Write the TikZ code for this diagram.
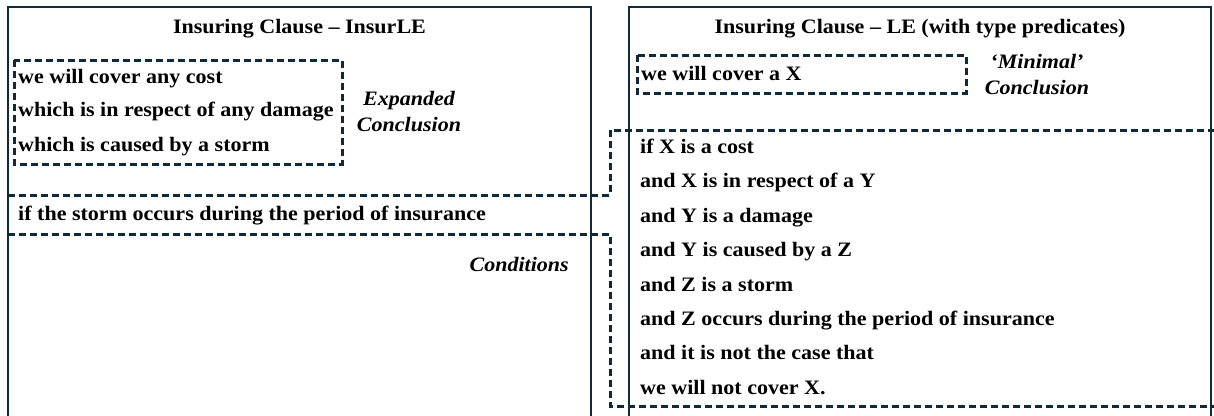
\documentclass[tikz,border=0pt]{standalone}
\usepackage{fontspec}
\setmainfont{Liberation Serif}[FakeStretch=1.075]
\definecolor{navy}{HTML}{0F2A3A}
\begin{document}
\begin{tikzpicture}[x=1pt,y=-1pt,
  panel/.style={draw=navy, line width=1.8pt},
  dashline/.style={draw=navy, line width=3pt, dash pattern=on 7pt off 4pt},
  txt/.style={anchor=base west, inner sep=0pt, font=\fontsize{20.5}{25}\selectfont\bfseries},
  ttl/.style={anchor=base, inner sep=0pt, font=\fontsize{20.5}{25}\selectfont\bfseries},
  lbl/.style={anchor=base, inner sep=0pt, font=\fontsize{20.5}{25}\selectfont\bfseries\itshape}]
\useasboundingbox (0,0) rectangle (1214,415);
% panels
\coordinate (lp1) at (8,416); \coordinate (lp2) at (8,7);
\coordinate (lp3) at (591,7); \coordinate (lp4) at (591,416);
\coordinate (rp1) at (629,416); \coordinate (rp2) at (629,7);
\coordinate (rp3) at (1211,7); \coordinate (rp4) at (1211,416);
\draw[panel] (lp1) -- (lp2) -- (lp3) -- (lp4);
\draw[panel] (rp1) -- (rp2) -- (rp3) -- (rp4);
% titles
\node[ttl] (t1) at (299.5,33) {Insuring Clause – InsurLE};
\node[ttl] (t2) at (920,33) {Insuring Clause – LE (with type predicates)};
% left dashed box
\coordinate (lb1) at (14,60); \coordinate (lb2) at (342,164);
\draw[dashline] (lb1) rectangle (lb2);
\node[txt] (l1) at (18,83) {we will cover any cost};
\node[txt] (l2) at (18,116.5) {which is in respect of any damage};
\node[txt] (l3) at (18,151.5) {which is caused by a storm};
\node[lbl] (e1) at (409,105.5) {Expanded};
\node[lbl] (e2) at (409,131.5) {Conclusion};
% condition strips
\coordinate (u0) at (8,195); \coordinate (u1) at (610,195);
\coordinate (u2) at (610,130); \coordinate (u3) at (1214,130);
\draw[dashline] (u0) -- (u1) -- (u2) -- (u3);
\node[txt] (c1) at (18,220.5) {if the storm occurs during the period of insurance};
\coordinate (d0) at (8,234); \coordinate (d1) at (610,234);
\coordinate (d2) at (610,406); \coordinate (d3) at (1214,406);
\draw[dashline] (d0) -- (d1) -- (d2) -- (d3);
\node[lbl, anchor=base east] (cond) at (569,271) {Conditions};
% right minimal box
\coordinate (mb1) at (637,55); \coordinate (mb2) at (966,93);
\draw[dashline] (mb1) rectangle (mb2);
\node[txt] (m1) at (641,80.5) {we will cover a X};
\node[lbl] (n1) at (1037,68) {‘Minimal’};
\node[lbl] (n2) at (1037,94) {Conclusion};
% right lines
\node[txt] (r1) at (640,153.5) {if X is a cost};
\node[txt] (r2) at (640,187.9) {and X is in respect of a Y};
\node[txt] (r3) at (640,222.3) {and Y is a damage};
\node[txt] (r4) at (640,256.7) {and Y is caused by a Z};
\node[txt] (r5) at (640,291.1) {and Z is a storm};
\node[txt] (r6) at (640,325.5) {and Z occurs during the period of insurance};
\node[txt] (r7) at (640,359.9) {and it is not the case that};
\node[txt] (r8) at (640,394.3) {we will not cover X.};
\end{tikzpicture}
\end{document}
